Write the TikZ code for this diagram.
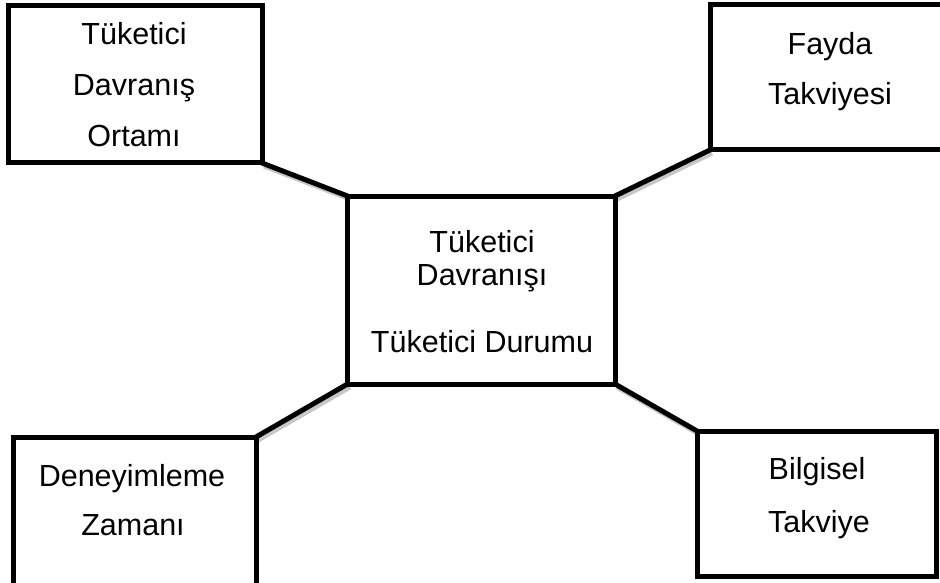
\documentclass[tikz,border=0pt]{standalone}
\usepackage{fontspec}
\setmainfont{Liberation Sans}
\begin{document}
\begin{tikzpicture}[x=1pt,y=-1pt,
  boxnode/.style={draw=black, line width=5pt, inner sep=0pt, outer sep=0pt, fill=white},
  lbl/.style={anchor=base, inner sep=0pt, font=\fontsize{30.5}{36}\selectfont},
  conn/.style={line width=5pt, draw=black},
  connshadow/.style={line width=5pt, draw=black!22}]
\useasboundingbox (0,0) rectangle (940,583);
\clip (0,0) rectangle (940,583);
% shadows of connectors
\coordinate (s1a) at (264,166); \coordinate (s1b) at (350,199);
\coordinate (s2a) at (712,153); \coordinate (s2b) at (617,199);
\coordinate (s3a) at (350,387); \coordinate (s3b) at (258,440);
\coordinate (s4a) at (617,387); \coordinate (s4b) at (699,434);
\draw[connshadow] (s1a) -- (s1b);
\draw[connshadow] (s2a) -- (s2b);
\draw[connshadow] (s3a) -- (s3b);
\draw[connshadow] (s4a) -- (s4b);
% boxes
\node[boxnode, minimum width=254pt, minimum height=157pt] (tl) at (135,84.5) {};
\node[boxnode, minimum width=242pt, minimum height=145pt] (tr) at (831,77.5) {};
\node[boxnode, minimum width=267.5pt, minimum height=188pt] (c) at (481.25,290) {};
\node[boxnode, minimum width=243pt, minimum height=163pt] (bl) at (134.5,518.5) {};
\node[boxnode, minimum width=239pt, minimum height=145pt] (br) at (816.5,503.5) {};
% connectors
\draw[conn] (tl.south east) -- (c.north west);
\draw[conn] (tr.south west) -- (c.north east);
\draw[conn] (c.south west) -- (bl.north east);
\draw[conn] (c.south east) -- (br.north west);
% labels
\node[lbl] (tl1) at (134,45) {Tüketici};
\node[lbl] (tl2) at (134,96) {Davranış};
\node[lbl] (tl3) at (134,147) {Ortamı};
\node[lbl] (tr1) at (830,55) {Fayda};
\node[lbl] (tr2) at (830,105) {Takviyesi};
\node[lbl] (c1) at (482,252) {Tüketici};
\node[lbl] (c2) at (482,285) {Davranışı};
\node[lbl] (c3) at (482,352) {Tüketici Durumu};
\node[lbl] (bl1) at (132,486) {Deneyimleme};
\node[lbl] (bl2) at (133,535) {Zamanı};
\node[lbl] (br1) at (817,479) {Bilgisel};
\node[lbl] (br2) at (819,532) {Takviye};
\end{tikzpicture}
\end{document}
